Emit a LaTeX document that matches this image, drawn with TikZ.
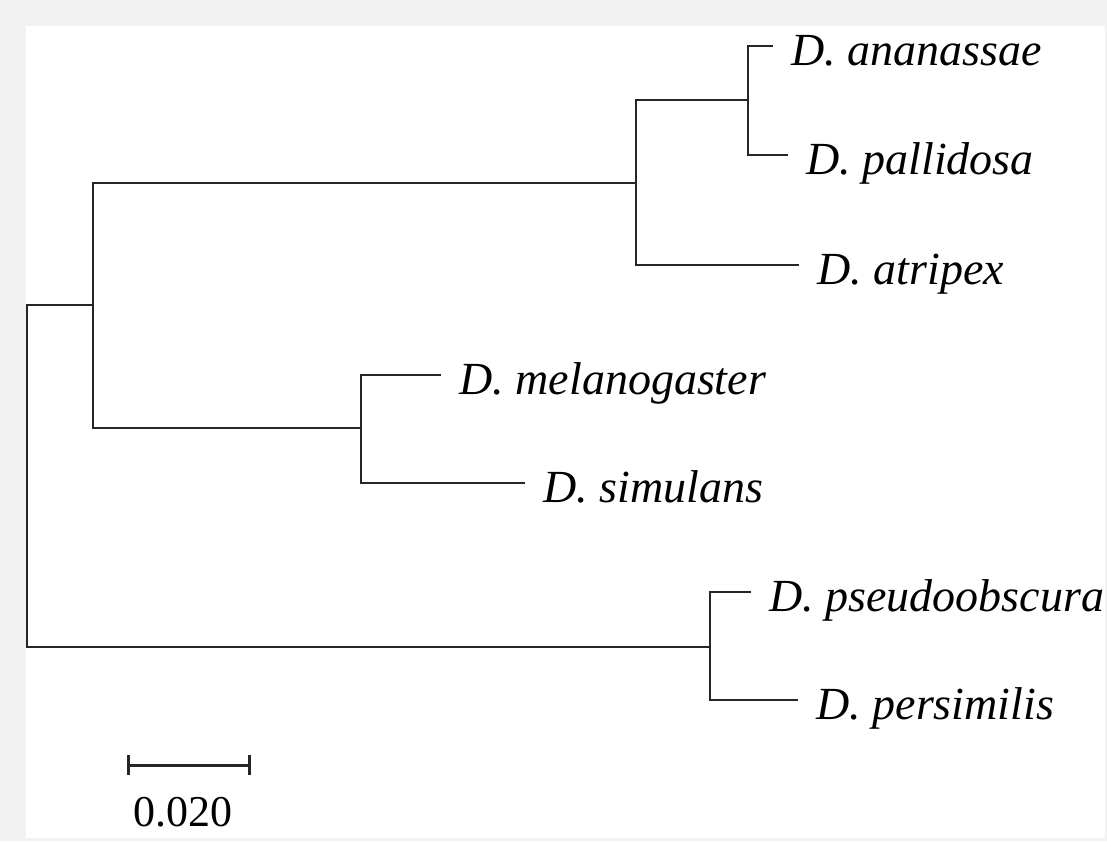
\documentclass[tikz,border=0pt]{standalone}
\usepackage{fontspec}
\setmainfont{Liberation Serif}
\usetikzlibrary{arrows.meta}

\tikzset{
  branch/.style={line width=1pt, color=black!85},
  leaf/.style={anchor=west, inner xsep=9pt, inner ysep=0pt, text height=19pt, text depth=0pt, font=\fontsize{23}{23}\selectfont\itshape},
}

\begin{document}
\begin{tikzpicture}[x=0.5pt, y=-0.5pt]

\useasboundingbox (0,0) rectangle (1107,841);
\fill[black!5] (0,0) rectangle (1107,841);
\fill[white] (26,26) rectangle (1105,838);

% inner nodes of the tree
\coordinate (root) at (27,476);
\coordinate (N1) at (93,305);
\coordinate (N2) at (636,183);
\coordinate (N3) at (748,100);
\coordinate (N4) at (361,428);
\coordinate (N5) at (710,647);

% species
\node[leaf] (ana) at (773,46) {D. ananassae};
\node[leaf] (pal) at (788,155) {D. pallidosa};
\node[leaf] (atr) at (799,265) {D. atripex};
\node[leaf] (mel) at (441,375) {D. melanogaster};
\node[leaf] (sim) at (525,483) {D. simulans};
\node[leaf] (pse) at (751,592) {D. pseudoobscura};
\node[leaf] (per) at (798,700) {D. persimilis};

\draw[branch] (root) |- (N1);
\draw[branch] (root) |- (N5);
\draw[branch] (N1) |- (N2);
\draw[branch] (N1) |- (N4);
\draw[branch] (N2) |- (N3);
\draw[branch] (N2) |- (atr.west);
\draw[branch] (N3) |- (ana.west);
\draw[branch] (N3) |- (pal.west);
\draw[branch] (N4) |- (mel.west);
\draw[branch] (N4) |- (sim.west);
\draw[branch] (N5) |- (pse.west);
\draw[branch] (N5) |- (per.west);

% scale bar
\coordinate (sbL) at (127,765);
\coordinate (sbR) at (251,765);
\draw[line width=1.5pt, color=black!85, {Bar[width=10pt]}-{Bar[width=10pt]}] (sbL) -- (sbR);
\node[font=\fontsize{22}{22}\selectfont] (scale) at (183,812) {0.020};

\end{tikzpicture}
\end{document}
